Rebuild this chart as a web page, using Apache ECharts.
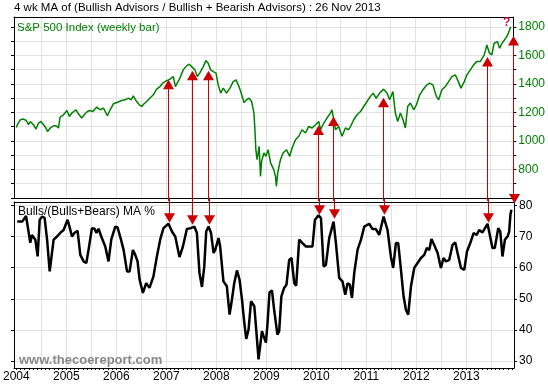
<!DOCTYPE html>
<html><head><meta charset="utf-8">
<script src="https://cdn.jsdelivr.net/npm/echarts@6/dist/echarts.min.js"></script>
<style>html,body{margin:0;padding:0;background:#fff}#c{width:548px;height:387px}</style>
</head><body><div id="c"></div>
<script>
// ---- data ----
const spDates = ['2004-01-02','2004-01-09','2004-01-30','2004-02-23','2004-03-14','2004-03-31','2004-04-12','2004-04-24','2004-05-06','2004-05-24','2004-06-12','2004-06-30','2004-07-19','2004-08-05','2004-08-17','2004-09-06','2004-09-30','2004-10-19','2004-11-05','2004-11-17','2004-12-12',
'2005-01-06','2005-01-24','2005-02-11','2005-03-14','2005-03-31','2005-04-24','2005-05-19','2005-06-05','2005-06-24','2005-07-14','2005-08-12','2005-09-06','2005-09-30','2005-10-29','2005-11-18','2005-12-12',
'2006-01-06','2006-01-24','2006-02-11','2006-03-07','2006-03-31','2006-04-20','2006-05-06','2006-05-31','2006-06-19','2006-07-07','2006-07-24','2006-08-12','2006-09-06','2006-09-30','2006-10-24','2006-11-17','2006-12-12',
'2007-01-06','2007-01-30','2007-02-23','2007-03-10','2007-04-12','2007-05-06','2007-05-31','2007-06-19','2007-07-07','2007-07-31','2007-08-17','2007-09-06','2007-09-30','2007-10-19','2007-11-05','2007-11-23','2007-12-12',
'2008-01-01','2008-01-17','2008-02-04','2008-02-23','2008-03-18','2008-04-12','2008-05-06','2008-05-26','2008-06-12','2008-06-30','2008-07-24','2008-08-12','2008-08-31','2008-09-18','2008-10-05','2008-10-12','2008-10-19','2008-10-28','2008-11-12','2008-11-22','2008-11-30','2008-12-17',
'2009-01-01','2009-01-17','2009-02-04','2009-02-18','2009-02-27','2009-03-12','2009-03-18','2009-03-28','2009-04-17','2009-05-06','2009-05-31','2009-06-24','2009-07-11','2009-08-05','2009-08-29','2009-09-22','2009-10-17','2009-11-10','2009-12-04','2009-12-29',
'2010-01-22','2010-02-04','2010-02-28','2010-03-23','2010-04-17','2010-04-29','2010-05-24','2010-06-17','2010-07-11','2010-08-05','2010-08-29','2010-09-15','2010-10-05','2010-10-29','2010-11-23','2010-12-17',
'2011-01-10','2011-02-04','2011-02-23','2011-03-18','2011-04-12','2011-05-11','2011-06-05','2011-06-24','2011-07-18','2011-08-05','2011-08-22','2011-09-11','2011-09-30','2011-10-17','2011-11-03','2011-11-23','2011-12-17',
'2012-01-06','2012-01-30','2012-02-23','2012-03-23','2012-04-12','2012-05-06','2012-05-31','2012-06-17','2012-07-11','2012-08-05','2012-08-29','2012-09-22','2012-10-17','2012-11-03','2012-11-27','2012-12-22',
'2013-01-10','2013-02-04','2013-02-28','2013-03-23','2013-04-17','2013-05-17','2013-06-05','2013-06-24','2013-07-11','2013-07-28','2013-08-22','2013-09-06','2013-09-24','2013-10-29','2013-11-13','2013-11-26'];
const spValues = [1095,1114,1149,1154,1144,1114,1137,1149,1114,1084,1126,1137,1114,1091,1067,1091,1107,1107,1091,1168,1184,
1214,1172,1196,1219,1191,1161,1191,1207,1214,1207,1238,1219,1231,1177,1219,1261,
1270,1277,1284,1289,1301,1289,1317,1277,1254,1242,1261,1277,1301,1324,1364,1382,1410,
1424,1434,1452,1382,1441,1499,1527,1539,1522,1499,1452,1480,1522,1564,1546,1499,1487,
1476,1394,1336,1371,1336,1371,1417,1429,1394,1347,1270,1289,1301,1277,1196,1079,939,869,962,752,857,916,
892,939,846,857,799,752,682,776,869,916,939,892,951,1009,1033,1079,1056,1102,1091,1114,
1137,1079,1126,1161,1196,1219,1079,1102,1033,1091,1079,1110,1149,1184,1207,1242,
1277,1313,1336,1300,1336,1364,1336,1289,1347,1196,1137,1196,1149,1091,1242,1266,1219,
1254,1324,1359,1394,1406,1394,1313,1289,1359,1382,1417,1452,1464,1429,1371,1417,
1464,1499,1534,1557,1557,1604,1674,1616,1604,1686,1697,1651,1686,1732,1767,1802];

const sentDates = ['2004-01-08','2004-02-13','2004-03-12','2004-04-12','2004-04-24','2004-05-19','2004-06-05','2004-06-20','2004-07-07','2004-07-26','2004-08-13','2004-09-01','2004-09-11','2004-09-30','2004-10-25','2004-11-18','2004-12-12',
'2005-01-10','2005-01-24','2005-02-11','2005-03-02','2005-03-24','2005-04-13','2005-05-07','2005-05-27','2005-06-12','2005-07-07','2005-07-26','2005-08-08','2005-08-24','2005-09-13','2005-10-12','2005-11-05','2005-11-25','2005-12-24',
'2006-01-10','2006-02-04','2006-02-23','2006-03-20','2006-04-08','2006-05-02','2006-05-19','2006-06-05','2006-06-20','2006-07-14','2006-08-07','2006-08-31','2006-09-29','2006-10-24','2006-11-17','2006-12-11',
'2007-01-17','2007-02-11','2007-03-07','2007-04-07','2007-05-02','2007-05-31','2007-06-29','2007-07-24','2007-08-12','2007-08-31','2007-09-18','2007-10-05','2007-10-19','2007-11-05','2007-11-23','2007-12-12','2007-12-24',
'2008-01-17','2008-01-29','2008-02-22','2008-03-18','2008-04-07','2008-04-24','2008-05-11','2008-05-31','2008-06-19','2008-07-07','2008-07-24','2008-08-07','2008-08-24','2008-09-11','2008-10-05','2008-10-19','2008-11-05','2008-11-30','2008-12-12','2008-12-29',
'2009-01-10','2009-01-24','2009-02-11','2009-02-27','2009-03-23','2009-04-05','2009-04-21','2009-05-11','2009-05-28','2009-06-17','2009-07-04','2009-07-24','2009-08-07','2009-08-29','2009-09-22','2009-10-17','2009-11-10','2009-12-04','2009-12-22',
'2010-01-17','2010-02-04','2010-02-23','2010-03-12','2010-04-05','2010-05-07','2010-05-24','2010-06-17','2010-07-11','2010-07-31','2010-08-17','2010-09-03','2010-09-18','2010-10-05','2010-10-29','2010-11-23','2010-12-17',
'2011-01-22','2011-02-15','2011-03-12','2011-04-05','2011-05-07','2011-06-05','2011-06-29','2011-07-16','2011-08-05','2011-08-22','2011-09-11','2011-09-30','2011-10-17','2011-11-03','2011-11-23','2011-12-17',
'2012-01-10','2012-02-04','2012-02-28','2012-03-18','2012-04-05','2012-04-21','2012-05-11','2012-06-05','2012-06-29','2012-07-18','2012-08-05','2012-08-29','2012-09-22','2012-10-12','2012-10-29','2012-11-23','2012-12-17',
'2013-01-06','2013-01-30','2013-02-23','2013-03-18','2013-04-05','2013-04-29','2013-06-05','2013-06-24','2013-07-11','2013-07-28','2013-08-22','2013-09-06','2013-09-22','2013-10-10','2013-10-29','2013-11-10','2013-11-19','2013-11-26'];
const sentValues = [74.8,74.8,76.6,68,70.5,69,63.6,75.4,76.4,76,69,58.8,59.3,69,70,71.2,72.1,
75.4,73.2,70,71.2,71.8,64.1,62,61.5,65.7,72.7,72.5,71.2,72.5,70,66.8,62,69,73.2,
72.9,69,65.7,58.8,58.8,65.7,64.1,62,56.1,51.9,55,53.5,57.2,63.6,69,72.7,
74.1,71.6,70,63.4,66.8,72.4,72.7,73.2,71.2,58.3,53.8,60.4,71.6,73.2,71.2,64.7,65.7,
69.5,66.8,55.6,54,44.9,49.7,55,59.1,56.1,49.7,42.2,37.1,40.1,49.2,47.6,40.1,30.5,39.6,38,35.9,
42.2,52,52.7,46.5,38.5,39.6,50.8,53.5,54.5,62.5,63.1,55,54.2,69,67.9,66.8,66.8,66.8,75.4,
76.8,75.9,60.4,60.9,69.5,74.8,67.9,56.7,55.6,51.3,55,54.5,50.3,58.3,65.7,69,73.2,
74.1,72.4,72.4,70.5,76.4,72.1,63.6,59.9,67.9,67.9,59.3,50.8,46.5,44.9,54,59.9,
61.5,63.1,64.1,66.3,65.7,69.2,67.3,64.7,59.9,63.1,62,62.5,67.3,68.1,64.7,59.9,59.3,
65.2,67.9,71.1,70.5,72.1,71.3,74.1,70,66.3,66.3,72.7,71.6,63.6,69,70,71.6,77,78.6];

const arrowDates = ['2007-01-17','2007-07-07','2007-11-05','2010-01-17','2010-05-07','2011-05-07','2013-06-05','2013-12-13'];
const arrowSP    = [1430,1492,1492,1108,1171,1304,1590,1737];
const arrowSent  = [74.4,73.8,73.8,77,75.7,77,74.4,80.6];

const yearLabels = [2004,2005,2006,2007,2008,2009,2010,2011,2012,2013];
const spTickLabels = [800,1000,1200,1400,1600,1800];
const spTickMarks = [600,700,800,900,1000,1100,1200,1300,1400,1500,1600,1700,1800];
const sentTickLabels = [30,40,50,60,70,80];

// ---- helpers ----
function dy(s) {
  const p = s.split('-').map(Number);
  const a = Date.UTC(p[0],0,1), b = Date.UTC(p[0]+1,0,1);
  return p[0] + (Date.UTC(p[0],p[1]-1,p[2]) - a) / (b - a);
}
const FONT = "'Liberation Sans', Arial, sans-serif";
const T0 = 2004 - 2.3/50, T1 = T0 + 10;
const halfYears = [], months = [];
yearLabels.forEach(y => {
  if (y > 2004) halfYears.push(dy(y + '-01-01'));
  halfYears.push(dy(y + '-07-01'));
  for (let m = 1; m <= 12; m++) months.push(dy(y + '-' + m + '-01'));
});
const yearVals = yearLabels.map(y => dy(y + '-01-01'));
const GRID = '#e2e2e2';
const BLK = {color:'#000', width:1};

function xAx(gi, pos, extra) {
  return Object.assign({
    gridIndex: gi, type: 'value', position: pos, min: T0, max: T1,
    axisLine: {show: true, onZero: false, lineStyle: BLK},
    axisTick: {show: false}, axisLabel: {show: false}, splitLine: {show: false}
  }, extra || {});
}
function yAx(gi, pos, min, max, extra) {
  return Object.assign({
    gridIndex: gi, type: 'value', position: pos, min: min, max: max,
    axisLine: {show: true, onZero: false, lineStyle: BLK},
    axisTick: {show: false}, axisLabel: {show: false}, splitLine: {show: false}
  }, extra || {});
}

const chart = echarts.init(document.getElementById('c'), null, {renderer: 'canvas'});
chart.setOption({
  animation: false,
  backgroundColor: '#fff',
  grid: [
    {left: 14, top: 17, width: 500, height: 181},
    {left: 14, top: 202, width: 500, height: 166}
  ],
  xAxis: [
    xAx(0, 'bottom', {axisTick: {show: false, customValues: halfYears}, splitLine: {show: true, lineStyle: {color: GRID}}}),
    xAx(0, 'top'),
    xAx(1, 'bottom', {
      axisTick: {show: true, length: 2, inside: false, customValues: months, lineStyle: BLK},
      axisLabel: {show: true, customValues: yearVals, formatter: v => String(Math.round(v)), color: '#000', fontSize: 12, fontFamily: FONT, margin: 3}
    }),
    xAx(1, 'top', {axisTick: {show: false, customValues: halfYears}, splitLine: {show: true, lineStyle: {color: GRID}}})
  ],
  yAxis: [
    yAx(0, 'right', 600, 1870, {
      axisTick: {show: true, length: 3, customValues: spTickMarks, lineStyle: BLK},
      axisLabel: {show: true, customValues: spTickLabels, formatter: v => String(v), color: '#008000', fontSize: 12, fontFamily: FONT, margin: 5},
      splitLine: {show: true, lineStyle: {color: GRID}}
    }),
    yAx(0, 'left', 600, 1870, {axisTick: {show: true, length: 3, customValues: spTickMarks, lineStyle: BLK}}),
    yAx(1, 'right', 27.75, 81.1, {
      axisTick: {show: true, length: 3, customValues: sentTickLabels, lineStyle: BLK},
      axisLabel: {show: true, customValues: sentTickLabels, formatter: v => String(v), color: '#000', fontSize: 12, fontFamily: FONT, margin: 5},
      splitLine: {show: true, lineStyle: {color: GRID}}
    }),
    yAx(1, 'left', 27.75, 81.1, {axisTick: {show: true, length: 3, customValues: sentTickLabels, lineStyle: BLK}})
  ],
  series: [
    {
      type: 'line', xAxisIndex: 0, yAxisIndex: 0, showSymbol: false, symbol: 'none',
      data: spDates.map((d, i) => [dy(d), spValues[i]]),
      lineStyle: {color: '#008000', width: 1.5}, z: 3
    },
    {
      type: 'line', xAxisIndex: 2, yAxisIndex: 2, showSymbol: false, symbol: 'none',
      data: sentDates.map((d, i) => [dy(d), sentValues[i]]),
      lineStyle: {color: '#000', width: 2.5}, z: 3
    },
    {
      type: 'custom', xAxisIndex: 0, yAxisIndex: 0, clip: false, z: 5,
      data: arrowDates.map((d, i) => [dy(d), arrowSP[i]]),
      renderItem: function (params, api) {
        const p = api.coord([api.value(0), api.value(1)]);
        const cs = params.coordSys;
        const x = Math.round(p[0]) + 0.5, y = p[1];
        return {type: 'group', children: [
          {type: 'line', shape: {x1: x, y1: y + 8, x2: x, y2: cs.y + cs.height + 3}, style: {stroke: '#cc0000', lineWidth: 1}},
          {type: 'polygon', shape: {points: [[x, y], [x - 5.5, y + 9.5], [x + 5.5, y + 9.5]]}, style: {fill: '#cc0000'}}
        ]};
      }
    },
    {
      type: 'custom', xAxisIndex: 2, yAxisIndex: 2, clip: false, z: 5,
      data: arrowDates.map((d, i) => [dy(d), arrowSent[i]]),
      renderItem: function (params, api) {
        const p = api.coord([api.value(0), api.value(1)]);
        const cs = params.coordSys;
        const x = Math.round(p[0]) + 0.5, y = p[1];
        return {type: 'group', children: [
          {type: 'line', shape: {x1: x, y1: cs.y - 3, x2: x, y2: y - 8}, style: {stroke: '#cc0000', lineWidth: 1}},
          {type: 'polygon', shape: {points: [[x, y], [x - 5.5, y - 9.5], [x + 5.5, y - 9.5]]}, style: {fill: '#cc0000'}}
        ]};
      }
    }
  ],
  graphic: [
    {type: 'text', left: 14, top: 2, style: {text: '4 wk MA of (Bullish Advisors / Bullish + Bearish Advisors) : 26 Nov 2013', fill: '#000', font: '11.5px ' + FONT}},
    {type: 'text', left: 17, top: 22, z: 10, style: {text: 'S&P 500 Index (weekly bar)', fill: '#008000', font: '11.5px ' + FONT}},
    {type: 'text', left: 503, top: 17, z: 100, style: {text: '?', fill: '#d0103a', font: 'bold 12px ' + FONT}},
    {type: 'text', left: 18, top: 206, z: 10, style: {text: 'Bulls/(Bulls+Bears) MA %', fill: '#000', font: '12px ' + FONT}},
    {type: 'text', left: 19, top: 354, z: 10, style: {text: 'www.thecoereport.com', fill: '#888888', font: 'bold 13px ' + FONT}}
  ]
});
</script></body></html>
